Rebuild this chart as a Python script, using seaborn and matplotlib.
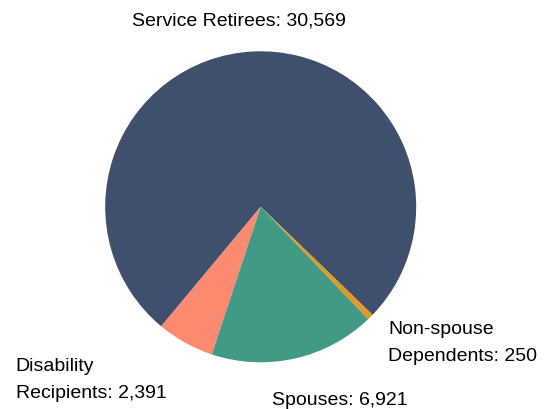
import matplotlib
matplotlib.use("Agg")
import matplotlib.pyplot as plt
import seaborn as sns

# Beneficiary counts by group
categories = ["Service Retirees", "Disability Recipients", "Spouses", "Non-spouse Dependents"]
counts = [30569, 2391, 6921, 250]
label_texts = ["Service Retirees: 30,569", "Disability\nRecipients: 2,391",
               "Spouses: 6,921", "Non-spouse\nDependents: 250"]
slice_colors = ["#3F506E", "#FB8A6F", "#409A85", "#E09A1C"]

sns.set_theme(style="white")
plt.rcParams["font.family"] = ["Liberation Sans", "DejaVu Sans"]

W, H = 548, 410
fig = plt.figure(figsize=(W / 100, H / 100), dpi=100)

cx, cy, r = 260.7, H - 207.8, 155.5
ax = fig.add_axes([(cx - r) / W, (cy - r) / H, 2 * r / W, 2 * r / H])
palette = sns.color_palette(slice_colors)
ax.pie(counts, colors=palette, startangle=-44.0, counterclock=True,
       wedgeprops=dict(linewidth=0))
ax.set_xlim(-1, 1)
ax.set_ylim(-1, 1)
ax.set_aspect("equal")
ax.axis("off")

fs = 14.0
# (x, first-line baseline measured from the top, horizontal alignment)
placements = [
    (238.7, 25.5, "center"),
    (15.5, 371.5, "left"),
    (271.5, 405.0, "left"),
    (388.0, 334.3, "left"),
]
for txt, (x, y, ha) in zip(label_texts, placements):
    for i, line in enumerate(txt.split("\n")):
        fig.text(x / W, (H - y - i * 27.0) / H, line, ha=ha, va="baseline",
                 fontsize=fs, color="black")

fig.savefig("out.png", dpi=100, facecolor="white")
